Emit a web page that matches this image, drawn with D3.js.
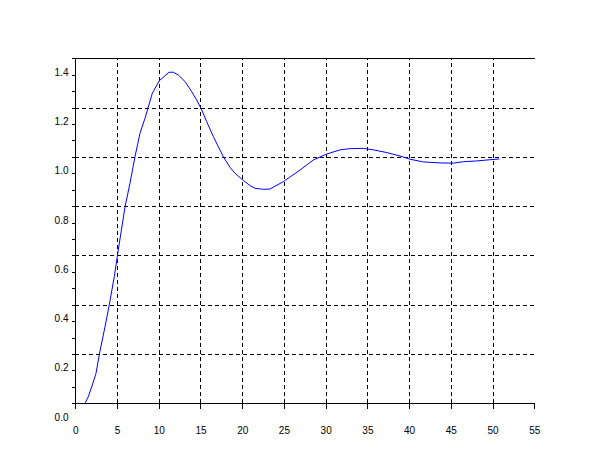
<!DOCTYPE html>
<html>
<head>
<meta charset="utf-8">
<script src="https://d3js.org/d3.v7.min.js"></script>
<style>
  html, body { margin: 0; padding: 0; background: #ffffff; }
  svg { display: block; }
  text { font-family: "Liberation Sans", Arial, sans-serif; font-size: 10px; fill: #000; }
</style>
</head>
<body>
<script>
// ---- data ----
const tValues = [1.16, 1.56, 2.04, 2.48, 2.88, 3.56, 4.07, 4.67, 5.15, 5.96, 6.55, 7.15, 7.75, 8.35, 9.23,
  10.07, 10.63, 11.23, 11.74, 12.34, 13.15, 13.95, 14.55, 15.06, 15.75, 16.54, 17.74, 18.54, 19.14,
  20.13, 20.94, 21.53, 22.53, 23.33, 24.93, 26.92, 28.52, 30.13, 31.72, 32.92, 34.51, 35.71, 37.32,
  38.91, 40.11, 41.70, 43.70, 45.30, 46.50, 48.10, 49.69, 50.81];
const yValues = [0.067, 0.093, 0.141, 0.188, 0.265, 0.377, 0.466, 0.580, 0.689, 0.864, 0.959, 1.067, 1.162, 1.223, 1.325,
  1.376, 1.392, 1.410, 1.410, 1.399, 1.372, 1.331, 1.297, 1.264, 1.209, 1.149, 1.067, 1.024, 1.000,
  0.971, 0.950, 0.939, 0.935, 0.936, 0.966, 1.013, 1.054, 1.078, 1.095, 1.100, 1.101, 1.095, 1.084,
  1.070, 1.057, 1.046, 1.042, 1.041, 1.047, 1.050, 1.055, 1.058];
const xTickLabels = [0, 5, 10, 15, 20, 25, 30, 35, 40, 45, 50, 55];
const yTickLabels = [0.0, 0.2, 0.4, 0.6, 0.8, 1.0, 1.2, 1.4];
const xGridValues = [5, 10, 15, 20, 25, 30, 35, 40, 45, 50];
const yFrame = [1 / 15, 22 / 15];           // visible y bounds of the plot frame
const ySubStep = 1 / 15;                     // y sub-tick spacing

const W = 610, H = 461;
const svg = d3.select("body").append("svg").attr("width", W).attr("height", H);
svg.append("rect").attr("width", W).attr("height", H).attr("fill", "#fff");

const x = d3.scaleLinear().domain([0, 55]).range([75.3, 534.3]);
const y = d3.scaleLinear().domain([0, 1.4]).range([419.7, 74.7]);

const x0 = x(0), x1 = x(55), yb = y(yFrame[0]), yt = y(yFrame[1]);

// grid
const yGridValues = d3.range(1, 7).map(k => yFrame[0] + 0.2 * k);
const grid = svg.append("g").attr("stroke", "#000").attr("stroke-width", 1)
  .attr("stroke-dasharray", "4,3").attr("shape-rendering", "crispEdges");
grid.selectAll("line.v").data(xGridValues).join("line").attr("class", "v")
  .attr("x1", d => Math.round(x(d)) + 0.5).attr("x2", d => Math.round(x(d)) + 0.5)
  .attr("y1", yb).attr("y2", yt);
grid.selectAll("line.h").data(yGridValues).join("line").attr("class", "h")
  .attr("x1", x0).attr("x2", x1)
  .attr("y1", d => Math.round(y(d)) + 0.5).attr("y2", d => Math.round(y(d)) + 0.5);

// x axis
const xAxis = d3.axisBottom(x).tickValues(xTickLabels).tickSize(5).tickPadding(18).tickFormat(d3.format("d"));
const gx = svg.append("g").attr("transform", `translate(0,${Math.round(yb) + 0.5})`).call(xAxis);
gx.select(".domain").remove();
gx.selectAll(".tick line").attr("stroke", "#000").attr("shape-rendering", "crispEdges");
gx.selectAll(".tick text").attr("font-size", 10).attr("font-family", "Liberation Sans, Arial, sans-serif").attr("dy", 0).attr("y", 30);

// y axis sub-ticks
const ySubTicks = d3.range(1, 23).map(k => k * ySubStep);
const yAxis = d3.axisLeft(y).tickValues(ySubTicks).tickSize(4).tickFormat("");
const gy = svg.append("g").attr("transform", `translate(${Math.round(x0) + 0.5},0)`).call(yAxis);
gy.select(".domain").remove();
gy.selectAll(".tick line").attr("stroke", "#000").attr("shape-rendering", "crispEdges");

// y labels
svg.append("g").selectAll("text").data(yTickLabels).join("text")
  .attr("x", 68.5).attr("y", d => y(d) + 1).attr("text-anchor", "end")
  .text(d => d3.format(".1f")(d));

// axis lines
const axes = svg.append("g").attr("stroke", "#000").attr("stroke-width", 1).attr("shape-rendering", "crispEdges");
axes.append("line").attr("x1", Math.round(x0) + 0.5).attr("x2", Math.round(x0) + 0.5).attr("y1", yt).attr("y2", yb + 5);
axes.append("line").attr("x1", x0).attr("x2", x1 + 1).attr("y1", Math.round(yb) + 0.5).attr("y2", Math.round(yb) + 0.5);
axes.append("line").attr("x1", x0).attr("x2", x1 + 1).attr("y1", Math.round(yt) + 0.5).attr("y2", Math.round(yt) + 0.5);

// curve
const line = d3.line().x((d, i) => x(tValues[i])).y(d => y(d));
svg.append("path").datum(yValues).attr("d", line)
  .attr("fill", "none").attr("stroke", "#0000ff").attr("stroke-width", 1);
</script>
</body>
</html>
